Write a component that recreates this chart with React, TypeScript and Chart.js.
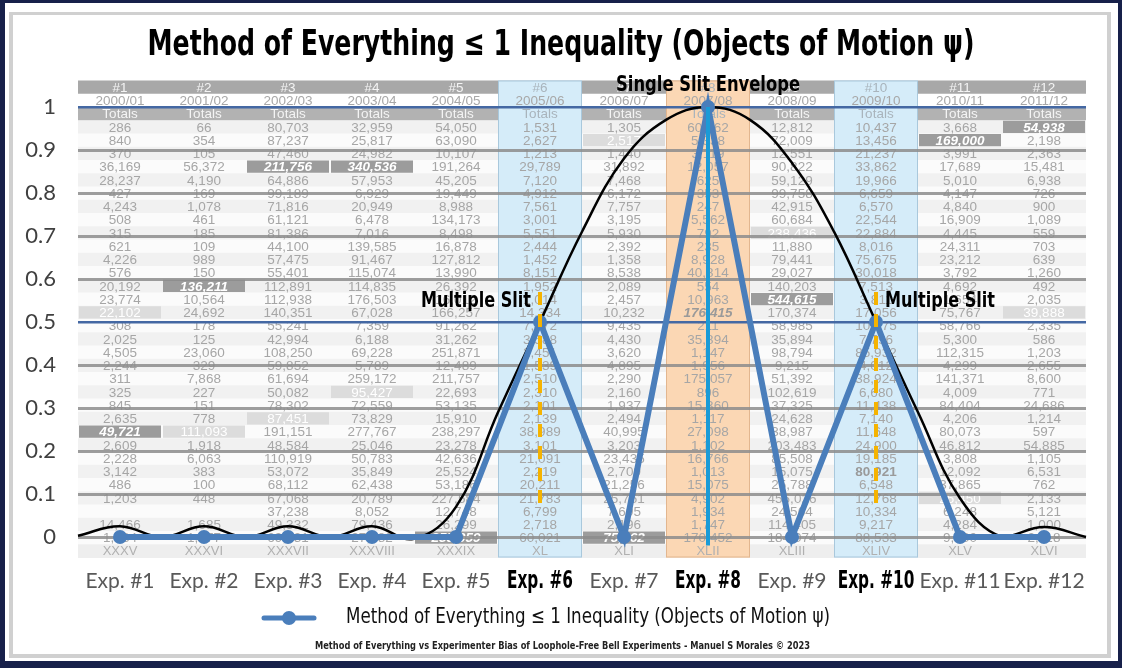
import React, { useEffect, useRef } from "react";
import { Chart, registerables } from "chart.js";

Chart.register(...registerables);

// ---------- chart data ----------
const categories = ["Exp. #1", "Exp. #2", "Exp. #3", "Exp. #4", "Exp. #5", "Exp. #6", "Exp. #7", "Exp. #8", "Exp. #9", "Exp. #10", "Exp. #11", "Exp. #12"];
const inequalityValues = [0, 0, 0, 0, 0, 0.5, 0, 1, 0, 0.5, 0, 0];
const seriesLabel = "Method of Everything \u2264 1 Inequality (Objects of Motion \u03c8)";

const envelopeX = [-0.5, 0, 0.5, 1, 1.5, 2, 2.5, 3, 3.5, 4, 4.5, 5, 5.5, 6, 6.5, 7, 7.5, 8, 8.5, 9, 9.5, 10, 10.5, 11, 11.5];
const envelopeY = [0.003, 0.025, 0, 0.025, 0, 0.025, 0, 0.025, -0.004, 0.07, 0.29, 0.5, 0.71, 0.88, 0.97, 1, 0.97, 0.87, 0.71, 0.5, 0.29, 0.09, 0, 0.023, 0];

const boldExperiments = [5, 7, 9];
const multipleSlitExps = [5, 9];
const singleSlitExp = 7;
const dashTop = 0.57;
const dashBottom = 0.07;

const yTickLabels = ["0", "0.1", "0.2", "0.3", "0.4", "0.5", "0.6", "0.7", "0.8", "0.9", "1"];
const blueGridValues = [0.5, 1];

const titleText = "Method of Everything \u2264 1 Inequality (Objects of Motion \u03c8)";
const footerText = "Method of Everything vs Experimenter Bias of Loophole-Free Bell Experiments - Manuel S Morales \u00a9 2023";
const singleSlitText = "Single Slit Envelope";
const multipleSlitText = "Multiple Slit";

// ---------- background table ----------
const tableIds = ["#1", "#2", "#3", "#4", "#5", "#6", "#7", "#8", "#9", "#10", "#11", "#12"];
const tableYears = ["2000/01", "2001/02", "2002/03", "2003/04", "2004/05", "2005/06", "2006/07", "2007/08", "2008/09", "2009/10", "2010/11", "2011/12"];
const tableRoman = ["XXXV", "XXXVI", "XXXVII", "XXXVIII", "XXXIX", "XL", "XLI", "XLII", "XLIII", "XLIV", "XLV", "XLVI"];
const tableRows = [
  ["286", "66", "80,703", "32,959", "54,050", "1,531", "1,305", "60,262", "12,812", "10,437", "3,668", "54,938"],
  ["840", "354", "87,237", "25,817", "63,090", "2,627", "2,517", "5,338", "72,009", "13,456", "169,000", "2,198"],
  ["370", "105", "47,460", "24,982", "10,107", "1,213", "1,440", "3,119", "12,551", "21,237", "3,991", "2,363"],
  ["36,169", "56,372", "211,756", "340,536", "191,264", "29,789", "31,892", "12,057", "90,822", "33,862", "17,689", "15,481"],
  ["28,237", "4,190", "64,886", "57,953", "45,205", "7,120", "7,468", "625", "59,129", "19,966", "5,010", "6,938"],
  ["427", "169", "99,189", "6,929", "19,449", "4,912", "6,172", "353", "99,758", "6,659", "4,147", "726"],
  ["4,243", "1,078", "71,816", "20,949", "8,988", "7,561", "7,757", "247", "42,915", "6,570", "4,840", "900"],
  ["508", "461", "61,121", "6,478", "134,173", "3,001", "3,195", "5,562", "60,684", "22,544", "16,909", "1,089"],
  ["315", "185", "81,386", "7,016", "8,498", "5,551", "5,930", "792", "238,436", "22,884", "4,445", "559"],
  ["621", "109", "44,100", "139,585", "16,878", "2,444", "2,392", "235", "11,880", "8,016", "24,311", "703"],
  ["4,226", "989", "57,475", "91,467", "127,812", "1,452", "1,358", "8,928", "79,441", "75,675", "23,212", "639"],
  ["576", "150", "55,401", "115,074", "13,990", "8,151", "8,538", "40,814", "29,027", "30,018", "3,792", "1,260"],
  ["20,192", "136,211", "112,891", "114,835", "26,392", "1,952", "2,089", "554", "140,203", "7,513", "4,692", "492"],
  ["23,774", "10,564", "112,938", "176,503", "16,012", "1,014", "2,457", "10,963", "544,615", "3,811", "1,654", "2,035"],
  ["22,102", "24,692", "140,351", "67,028", "166,257", "14,334", "10,232", "176,415", "170,374", "17,056", "75,767", "39,888"],
  ["308", "178", "55,241", "7,359", "91,262", "7,472", "9,435", "211", "58,985", "10,975", "58,766", "2,335"],
  ["2,025", "125", "42,994", "6,188", "31,262", "3,588", "4,430", "35,894", "35,894", "7,796", "5,300", "586"],
  ["4,505", "23,060", "108,250", "69,228", "251,871", "2,451", "3,620", "1,147", "98,794", "85,932", "112,315", "1,203"],
  ["2,244", "329", "59,852", "5,789", "12,489", "1,539", "4,895", "1,956", "9,215", "4,012", "4,299", "2,655"],
  ["311", "7,868", "61,694", "259,172", "211,757", "2,510", "2,290", "175,057", "51,392", "38,924", "141,371", "8,600"],
  ["325", "227", "50,082", "95,427", "22,693", "2,310", "2,160", "896", "102,619", "6,680", "4,009", "771"],
  ["845", "151", "78,302", "72,559", "53,135", "2,101", "1,937", "15,360", "37,325", "11,438", "84,404", "24,686"],
  ["2,635", "778", "87,451", "73,829", "15,910", "2,139", "2,494", "1,117", "24,628", "7,140", "4,206", "1,214"],
  ["49,721", "111,093", "191,151", "277,767", "238,297", "38,989", "40,995", "27,098", "38,987", "11,648", "80,073", "597"],
  ["2,609", "1,918", "48,584", "25,046", "23,278", "3,101", "3,203", "1,102", "203,483", "24,900", "46,812", "54,885"],
  ["2,228", "6,063", "110,919", "50,783", "42,636", "21,091", "23,435", "16,766", "85,508", "19,185", "3,808", "1,105"],
  ["3,142", "383", "53,072", "35,849", "25,524", "2,219", "2,709", "1,013", "15,075", "80,921", "12,092", "6,531"],
  ["486", "100", "68,112", "62,438", "53,186", "20,211", "21,256", "15,075", "25,788", "6,548", "37,865", "762"],
  ["1,203", "448", "67,068", "20,789", "227,584", "21,783", "25,751", "4,902", "455,026", "12,768", "25,450", "2,133"],
  ["", "", "37,238", "8,052", "12,748", "6,799", "7,695", "1,934", "24,564", "10,334", "6,248", "5,121"],
  ["14,466", "1,685", "49,332", "79,436", "26,299", "2,718", "2,196", "1,747", "114,405", "9,217", "4,284", "1,000"],
  ["1,234", "1,577", "69,031", "27,282", "255,059", "60,021", "75,962", "170,452", "184,074", "88,533", "9,200", "2,118"],
];
const darkCells = [[3, 2], [3, 3], [12, 1], [23, 0], [13, 8], [1, 10], [0, 11], [31, 4], [31, 6]];
const lightCells = [[14, 0], [1, 6], [8, 8], [20, 3], [22, 2], [23, 1], [14, 11], [28, 10]];
const italicBoldCells = [[14, 7]];
const boldCells = [[26, 9]];
const blueColumns = [5, 9];
const orangeColumns = [7];

// ---------- styling ----------
const COND = '"Liberation Sans Narrow", "DejaVu Sans Condensed", "Roboto Condensed", "Noto Sans", sans-serif';
const SANS = '"Liberation Sans", Arial, sans-serif';
const LABEL = 'Lato, "Open Sans", sans-serif';
const BLUE = "#4a7ebb";

function has(list: number[][], r: number, c: number) {
  return list.some((p) => p[0] === r && p[1] === c);
}

function fitText(ctx: CanvasRenderingContext2D, text: string, x: number, y: number, width: number, font: string, color: string, align: "left" | "center" | "right") {
  ctx.save();
  ctx.font = font;
  const w = ctx.measureText(text).width;
  const s = width / w;
  const x0 = align === "center" ? x - width / 2 : align === "right" ? x - width : x;
  ctx.translate(x0, y);
  ctx.scale(s, 1);
  ctx.fillStyle = color;
  ctx.textAlign = "left";
  ctx.textBaseline = "middle";
  ctx.fillText(text, 0, 0);
  ctx.restore();
}

const backdropPlugin = {
  id: "backdrop",
  beforeDraw(chart: any) {
    const ctx: CanvasRenderingContext2D = chart.ctx;
    const W = chart.width;
    const H = chart.height;
    const area = chart.chartArea;
    ctx.save();
    // frame
    ctx.fillStyle = "#17204a";
    ctx.fillRect(0, 0, W, H);
    ctx.fillStyle = "#ffffff";
    ctx.fillRect(5, 3, W - 9, H - 10);
    ctx.fillStyle = "#d0d0d0";
    ctx.fillRect(9, 12, W - 20, H - 22);
    ctx.fillStyle = "#ffffff";
    ctx.fillRect(13, 15, W - 28, H - 29);

    // table
    const colW = (area.right - area.left) / 12;
    const rh = 13.25;
    const top0 = area.top - 2 * rh;
    const nRows = 3 + tableRows.length + 1;
    for (let r = 0; r < nRows; r++) {
      const y = top0 + r * rh;
      if (r === 0) ctx.fillStyle = "#a8a8a8";
      else if (r === 1) ctx.fillStyle = "#ffffff";
      else if (r === 2) ctx.fillStyle = "#b2b2b2";
      else if (r === nRows - 1) ctx.fillStyle = "#eeeeee";
      else ctx.fillStyle = (r - 3) % 2 === 0 ? "#f1f1f1" : "#fbfbfb";
      ctx.fillRect(area.left, y, area.right - area.left, rh + 0.5);
    }
    const colFill = (c: number, fill: string, stroke: string) => {
      const x = area.left + c * colW;
      ctx.fillStyle = fill;
      ctx.fillRect(x, top0, colW, nRows * rh);
      ctx.strokeStyle = stroke;
      ctx.lineWidth = 1;
      ctx.strokeRect(x + 0.5, top0 + 0.5, colW - 1, nRows * rh - 1);
    };
    blueColumns.forEach((c) => colFill(c, "#d5ecf9", "#a9c8dc"));
    orangeColumns.forEach((c) => colFill(c, "#fbd7b4", "#e2b68f"));
    const cellBox = (r: number, c: number, fill: string) => {
      const x = area.left + c * colW;
      const y = top0 + (r + 3) * rh;
      ctx.fillStyle = fill;
      ctx.fillRect(x + 1, y + 0.5, colW - 2, rh - 1);
    };
    darkCells.forEach((p) => cellBox(p[0], p[1], "#9c9c9c"));
    lightCells.forEach((p) => cellBox(p[0], p[1], "#dcdcdc"));

    ctx.textAlign = "center";
    ctx.textBaseline = "middle";
    const hl = (c: number) => blueColumns.includes(c) || orangeColumns.includes(c);
    for (let c = 0; c < 12; c++) {
      const cx = area.left + (c + 0.5) * colW;
      ctx.font = `13.5px ${SANS}`;
      ctx.fillStyle = hl(c) ? "#a9b4bc" : "#f4f4f4";
      ctx.fillText(tableIds[c], cx, top0 + 0.5 * rh + 1);
      ctx.fillStyle = "#a8a8a8";
      ctx.fillText(tableYears[c], cx, top0 + 1.5 * rh + 1);
      ctx.fillStyle = hl(c) ? "#a9b4bc" : "#f4f4f4";
      ctx.fillText("Totals", cx, top0 + 2.5 * rh + 1);
      for (let r = 0; r < tableRows.length; r++) {
        const y = top0 + (r + 3.5) * rh + 1;
        const t = tableRows[r][c];
        if (!t) continue;
        if (has(darkCells, r, c)) {
          ctx.font = `italic bold 13.5px ${SANS}`;
          ctx.fillStyle = "#ffffff";
        } else if (has(lightCells, r, c)) {
          ctx.font = `13.5px ${SANS}`;
          ctx.fillStyle = "#ffffff";
        } else if (has(italicBoldCells, r, c)) {
          ctx.font = `italic bold 13.5px ${SANS}`;
          ctx.fillStyle = "#9a9a9a";
        } else if (has(boldCells, r, c)) {
          ctx.font = `bold 13.5px ${SANS}`;
          ctx.fillStyle = "#9a9a9a";
        } else {
          ctx.font = `13.5px ${SANS}`;
          ctx.fillStyle = "#a6a6a6";
        }
        ctx.fillText(t, cx, y);
      }
      ctx.font = `13px ${SANS}`;
      ctx.fillStyle = "#b0b0b0";
      ctx.fillText(tableRoman[c], cx, top0 + (nRows - 0.5) * rh + 1);
    }

    // title
    fitText(ctx, titleText, W / 2, 46, 827, `bold 36px ${COND}`, "#000000", "center");

    // legend
    const ly = 618;
    ctx.strokeStyle = BLUE;
    ctx.lineWidth = 5;
    ctx.lineCap = "round";
    ctx.beginPath();
    ctx.moveTo(264, ly);
    ctx.lineTo(314, ly);
    ctx.stroke();
    ctx.fillStyle = BLUE;
    ctx.beginPath();
    ctx.arc(289, ly, 7, 0, Math.PI * 2);
    ctx.fill();
    fitText(ctx, seriesLabel, 346, ly, 484, `21px ${COND}`, "#111111", "left");
    fitText(ctx, footerText, 315, 646, 495, `bold 11px ${COND}`, "#222222", "left");
    ctx.restore();
  },
};

const annotationPlugin = {
  id: "slitMarks",
  afterDatasetsDraw(chart: any) {
    const ctx: CanvasRenderingContext2D = chart.ctx;
    const xs = chart.scales.x;
    const ys = chart.scales.y;
    ctx.save();
    const sx = xs.getPixelForValue(singleSlitExp);
    ctx.strokeStyle = "#1a9bd7";
    ctx.lineWidth = 4;
    ctx.beginPath();
    ctx.moveTo(sx, ys.getPixelForValue(inequalityValues[singleSlitExp]));
    ctx.lineTo(sx, ys.getPixelForValue(-0.02));
    ctx.stroke();
    ctx.strokeStyle = "#f5b301";
    ctx.lineWidth = 4;
    ctx.setLineDash([13, 9]);
    multipleSlitExps.forEach((i) => {
      const x = xs.getPixelForValue(i);
      ctx.beginPath();
      ctx.moveTo(x, ys.getPixelForValue(dashTop));
      ctx.lineTo(x, ys.getPixelForValue(dashBottom));
      ctx.stroke();
    });
    ctx.setLineDash([]);
    const font = `bold 21px ${COND}`;
    fitText(ctx, singleSlitText, sx, ys.getPixelForValue(1) - 21, 184, font, "#000000", "center");
    multipleSlitExps.forEach((i, k) => {
      const x = xs.getPixelForValue(i);
      const y = ys.getPixelForValue(inequalityValues[i]) - 20;
      if (k === 0) fitText(ctx, multipleSlitText, x - 9, y, 110, font, "#000000", "right");
      else fitText(ctx, multipleSlitText, x + 9, y, 110, font, "#000000", "left");
    });

    // bold (condensed) category labels for the slit experiments
    const bfont = `bold 25px ${COND}`;
    ctx.font = bfont;
    const ref = ctx.measureText("Exp. #8").width;
    const sc = 66 / ref;
    boldExperiments.forEach((i) => {
      const x = xs.getPixelForValue(i);
      ctx.font = bfont;
      const w = ctx.measureText(categories[i]).width * sc;
      fitText(ctx, categories[i], x, xs.top + 44, w, bfont, "#000000", "center");
    });
    ctx.restore();
  },
};

export default function App() {
  const canvasRef = useRef<HTMLCanvasElement | null>(null);

  useEffect(() => {
    document.body.style.margin = "0";
    const canvas = canvasRef.current;
    if (!canvas) return;
    const chart = new Chart(canvas, {
      type: "line",
      data: {
        labels: categories,
        datasets: [
          {
            label: seriesLabel,
            data: inequalityValues,
            borderColor: BLUE,
            backgroundColor: BLUE,
            borderWidth: 6,
            pointRadius: 7,
            pointBackgroundColor: BLUE,
            pointBorderColor: BLUE,
            pointBorderWidth: 0,
            tension: 0,
            clip: false as any,
            order: 1,
          },
          {
            label: "Single Slit Envelope",
            data: envelopeX.map((x, i) => ({ x, y: envelopeY[i] })),
            xAxisID: "x2",
            borderColor: "#000000",
            borderWidth: 2.5,
            pointRadius: 0,
            tension: 0.4,
            clip: false as any,
            order: 2,
          } as any,
        ],
      },
      options: {
        animation: false,
        responsive: false,
        devicePixelRatio: 1,
        layout: { padding: { top: 107, right: 36, left: 0, bottom: 0 } },
        plugins: {
          legend: { display: false },
          title: { display: false },
          tooltip: { enabled: false },
        },
        scales: {
          x: {
            type: "category",
            offset: true,
            grid: { display: false, drawTicks: false },
            border: { display: false },
            ticks: {
              autoSkip: false,
              maxRotation: 0,
              padding: 32,
              font: { family: LABEL, size: 21, weight: "normal" },
              color: "#595959",
              callback: (_v: any, i: number) => (boldExperiments.includes(i) ? "" : categories[i]),
            },
            afterFit: (s: any) => {
              s.height = 131;
            },
          },
          x2: {
            type: "linear",
            min: -0.5,
            max: 11.5,
            display: false,
          },
          y: {
            min: 0,
            max: 1,
            ticks: {
              stepSize: 0.1,
              padding: 22,
              color: "#404040",
              font: { family: LABEL, size: 22 },
              callback: (v: any) => yTickLabels[Math.round(Number(v) * 10)],
            },
            grid: {
              drawTicks: false,
              color: (c: any) =>
                c.tick && blueGridValues.some((b) => Math.abs(b - c.tick.value) < 1e-6) ? "#4468a3" : "rgba(140,140,140,0.85)",
              lineWidth: (c: any) =>
                c.tick && blueGridValues.some((b) => Math.abs(b - c.tick.value) < 1e-6) ? 2.5 : 3,
            },
            border: { display: false },
            afterFit: (s: any) => {
              s.width = 78;
            },
          },
        },
      },
      plugins: [backdropPlugin, annotationPlugin],
    });
    return () => chart.destroy();
  }, []);

  return (
    <div style={{ width: 1122, height: 668 }}>
      <canvas ref={canvasRef} width={1122} height={668} style={{ display: "block" }} />
    </div>
  );
}
